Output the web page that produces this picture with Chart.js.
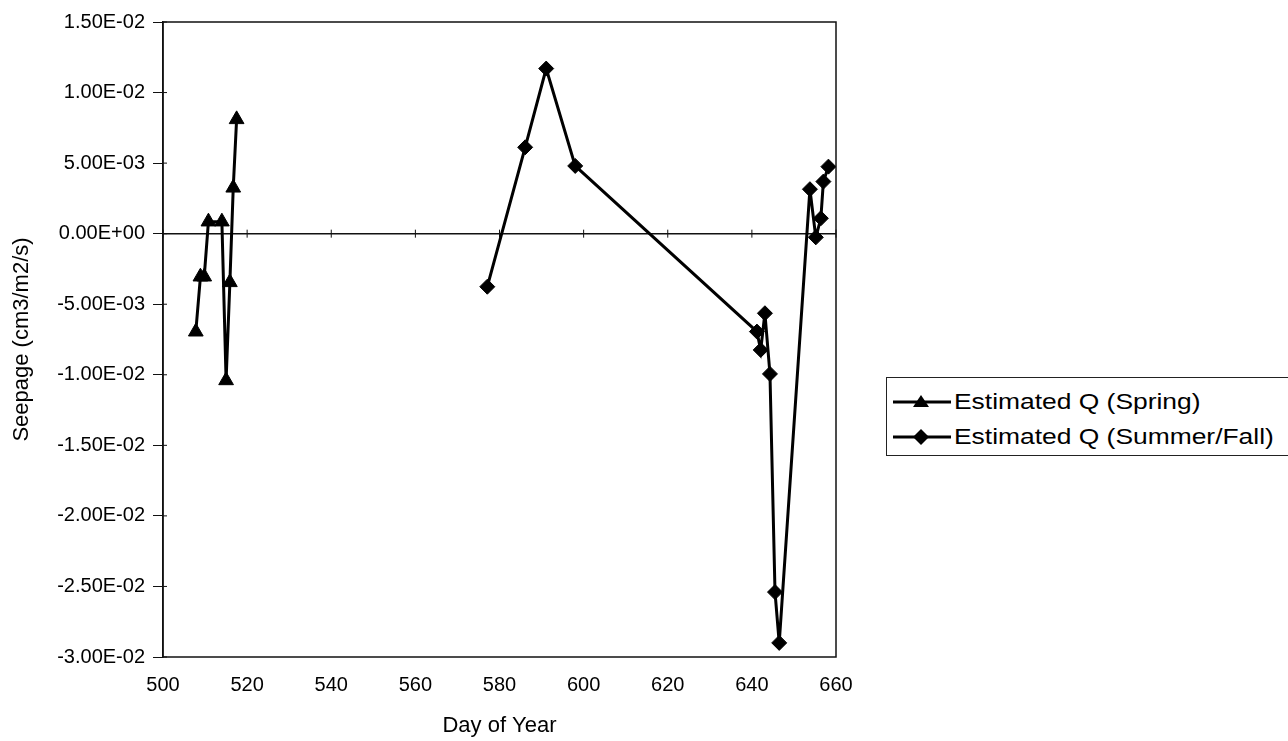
<!DOCTYPE html>
<html>
<head>
<meta charset="utf-8">
<script src="https://cdn.jsdelivr.net/npm/chart.js@4.4.1/dist/chart.umd.min.js"></script>
<style>
  html, body { margin: 0; padding: 0; background: #fff; overflow: hidden; }
  #wrap { position: relative; width: 1288px; height: 741px; }
  #chart { position: absolute; left: 0; top: 0; }
  #legend {
    position: absolute; left: 886px; top: 377px; width: 440px; height: 79px;
    border: 1px solid #222; box-sizing: border-box; background: #fff;
    font-family: "Liberation Sans", Arial, sans-serif; font-size: 22px; color: #000;
  }
  .row { position: absolute; left: 5px; height: 30px; display: flex; align-items: center; }
  .row svg { flex: none; }
  .row span { display: inline-block; transform: scaleX(1.2); transform-origin: left center; white-space: nowrap; margin-left: 2px; }
</style>
</head>
<body>
<div id="wrap">
  <canvas id="chart" width="1288" height="741"></canvas>
  <div id="legend"></div>
</div>
<script>
// Seepage estimates by day of year
const seriesNames = ["Estimated Q (Spring)", "Estimated Q (Summer/Fall)"];

const springDays = [507.8, 508.9, 509.8, 510.8, 514.0, 515.0, 515.9, 516.7, 517.5];
const springQ = [-0.00695, -0.00305, -0.00305, 0.00085, 0.00085, -0.0104, -0.00345, 0.00325, 0.0081];

const summerDays = [577.1, 586.1, 591.1, 598.0, 641.2, 642.1, 643.1, 644.3, 645.5, 646.5, 653.8, 655.2, 656.4, 657.0, 658.2];
const summerQ = [-0.00376, 0.00612, 0.0117, 0.0048, -0.00694, -0.00824, -0.00564, -0.00994, -0.0254, -0.029, 0.00315, -0.00026, 0.00109, 0.00369, 0.00475];

const xTickValues = [500, 520, 540, 560, 580, 600, 620, 640, 660];
const yTickValues = [0.015, 0.01, 0.005, 0, -0.005, -0.01, -0.015, -0.02, -0.025, -0.03];

const FONT = '"Liberation Sans", Arial, sans-serif';

// Spreadsheet-style scientific notation, e.g. 1.50E-02, 0.00E+00
function sci(v) {
  if (Math.abs(v) < 1e-12) return "0.00E+00";
  const parts = v.toExponential(2).split("e");
  const e = parseInt(parts[1], 10);
  const sign = e < 0 ? "-" : "+";
  const mag = String(Math.abs(e)).padStart(2, "0");
  return parts[0] + "E" + sign + mag;
}

function pairs(xs, ys) {
  return xs.map((x, i) => ({ x: x, y: ys[i] }));
}

// Frame around the plot, the zero line and the tick marks that cross the axes
const framePlugin = {
  id: "framePlugin",
  beforeDatasetsDraw(chart) {
    const { ctx, chartArea: a, scales } = chart;
    ctx.save();
    ctx.strokeStyle = "#111";
    ctx.lineWidth = 1.5;
    ctx.strokeRect(a.left, a.top, a.right - a.left, a.bottom - a.top);
    const y0 = scales.y.getPixelForValue(0);
    ctx.beginPath();
    ctx.moveTo(a.left, y0);
    ctx.lineTo(a.right, y0);
    ctx.stroke();
    ctx.lineWidth = 1;
    xTickValues.forEach(v => {
      const px = scales.x.getPixelForValue(v);
      ctx.beginPath();
      ctx.moveTo(px, y0 - 4);
      ctx.lineTo(px, y0 + 4);
      ctx.stroke();
    });
    yTickValues.forEach(v => {
      const py = scales.y.getPixelForValue(v);
      ctx.beginPath();
      ctx.moveTo(a.left, py);
      ctx.lineTo(a.left + 4, py);
      ctx.stroke();
    });
    ctx.restore();
  }
};

const chart = new Chart(document.getElementById("chart"), {
  type: "scatter",
  data: {
    datasets: [
      {
        label: seriesNames[0],
        data: pairs(springDays, springQ),
        showLine: true,
        borderColor: "#000",
        backgroundColor: "#000",
        borderWidth: 3,
        pointStyle: "triangle",
        pointRadius: 8.5,
        pointBorderWidth: 1,
        tension: 0
      },
      {
        label: seriesNames[1],
        data: pairs(summerDays, summerQ),
        showLine: true,
        borderColor: "#000",
        backgroundColor: "#000",
        borderWidth: 3,
        pointStyle: "rectRot",
        pointRadius: 7.5,
        pointBorderWidth: 1,
        tension: 0
      }
    ]
  },
  options: {
    responsive: false,
    animation: false,
    layout: { padding: { left: 0, right: 452, top: 22, bottom: 0 } },
    plugins: {
      legend: { display: false },
      tooltip: { enabled: false }
    },
    scales: {
      x: {
        type: "linear",
        min: 500,
        max: 660,
        afterBuildTicks(scale) { scale.ticks = xTickValues.map(v => ({ value: v })); },
        afterFit(scale) { scale.height = 84; },
        grid: { display: false, drawTicks: false },
        border: { display: false },
        ticks: {
          color: "#000",
          padding: 16,
          maxRotation: 0,
          font: { family: FONT, size: 20 }
        },
        title: {
          display: true,
          text: "Day of Year",
          color: "#000",
          padding: { top: 0, bottom: 2 },
          font: { family: FONT, size: 22 }
        }
      },
      y: {
        type: "linear",
        min: -0.03,
        max: 0.015,
        afterBuildTicks(scale) { scale.ticks = yTickValues.map(v => ({ value: v })); },
        afterFit(scale) { scale.width = 163; },
        grid: {
          drawOnChartArea: false,
          drawTicks: true,
          tickLength: 10,
          tickColor: "#111",
          color: "#111"
        },
        border: { display: true, color: "#111", width: 1.5 },
        ticks: {
          color: "#000",
          padding: 8,
          font: { family: FONT, size: 20 },
          callback: v => sci(v)
        },
        title: {
          display: true,
          text: "Seepage (cm3/m2/s)",
          color: "#000",
          padding: { top: 9, bottom: 0 },
          font: { family: FONT, size: 22 }
        }
      }
    }
  },
  plugins: [framePlugin]
});

// Legend rows built from the dataset styles
const legend = document.getElementById("legend");
chart.data.datasets.forEach((ds, i) => {
  const row = document.createElement("div");
  row.className = "row";
  row.style.top = (i === 0 ? 24 : 59) - 15 + "px";
  const marker = ds.pointStyle === "triangle"
    ? '<polygon points="29,3 37,15 21,15" fill="#000"/>'
    : '<polygon points="29,2 37,10 29,18 21,10" fill="#000"/>';
  row.innerHTML =
    '<svg width="60" height="20" viewBox="0 0 60 20">' +
    '<line x1="1" y1="10" x2="59" y2="10" stroke="#000" stroke-width="3"/>' + marker +
    '</svg><span></span>';
  row.querySelector("span").textContent = ds.label;
  legend.appendChild(row);
});
</script>
</body>
</html>
